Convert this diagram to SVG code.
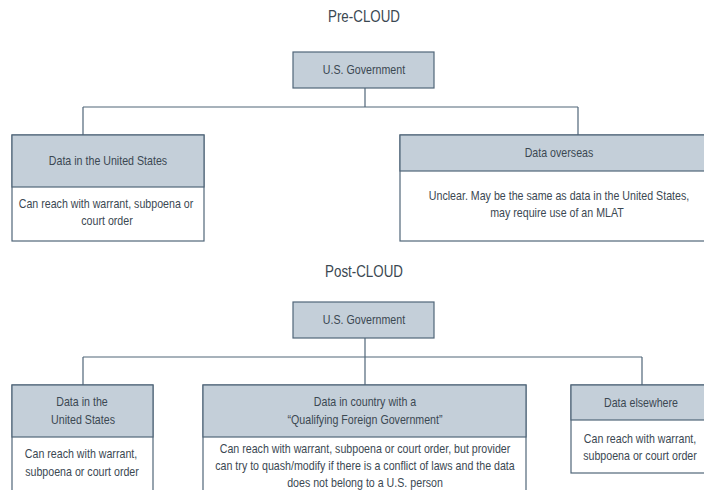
<svg xmlns="http://www.w3.org/2000/svg" width="704" height="490" viewBox="0 0 704 490">
<style>
text{font-family:"Liberation Sans",Arial,sans-serif;font-size:13px;fill:#3b4852;text-anchor:middle}
.title{font-size:16.3px}
.hd{fill:#c4cfd9;stroke:#506679;stroke-width:1.2}
.bd{fill:#ffffff;stroke:#506679;stroke-width:1.2}
.ln{fill:none;stroke:#506679;stroke-width:1.2}
</style>
<rect width="704" height="490" fill="#ffffff"/>
<text class="title" transform="translate(364 0) scale(.82 1)" y="22">Pre-CLOUD</text>
<text class="title" transform="translate(364 0) scale(.82 1)" y="277">Post-CLOUD</text>
<g id="connectors">
<path class="ln" d="M365 88V107M83 107H578M83 107V135M578 107V135"/>
<path class="ln" d="M365 338V385M83 357H642M83 357V385M642 357V385"/>
</g>
<g id="pre-gov">
<rect class="hd" x="293" y="52" width="141" height="36"/>
<text transform="translate(364 0) scale(.82 1)" y="74">U.S. Government</text>
</g>
<g id="pre-us">
<rect class="bd" x="12" y="135" width="192" height="106"/>
<rect class="hd" x="12" y="135" width="192" height="52"/>
<text transform="translate(108 0) scale(.82 1)" y="165">Data in the United States</text>
<text transform="translate(106 0) scale(.82 1)" y="208">Can reach with warrant, subpoena or</text>
<text transform="translate(107 0) scale(.82 1)" y="225">court order</text>
</g>
<g id="pre-overseas">
<rect class="bd" x="400" y="135" width="318" height="106"/>
<rect class="hd" x="400" y="135" width="318" height="36"/>
<text transform="translate(559 0) scale(.82 1)" y="157">Data overseas</text>
<text transform="translate(559 0) scale(.82 1)" y="200">Unclear. May be the same as data in the United States,</text>
<text transform="translate(557 0) scale(.82 1)" y="217">may require use of an MLAT</text>
</g>
<g id="post-gov">
<rect class="hd" x="293" y="302" width="141" height="36"/>
<text transform="translate(364 0) scale(.82 1)" y="324">U.S. Government</text>
</g>
<g id="post-us">
<rect class="bd" x="12" y="385" width="141" height="112"/>
<rect class="hd" x="12" y="385" width="141" height="52"/>
<text transform="translate(82 0) scale(.82 1)" y="406">Data in the</text>
<text transform="translate(83 0) scale(.82 1)" y="424">United States</text>
<text transform="translate(81 0) scale(.82 1)" y="458">Can reach with warrant,</text>
<text transform="translate(82 0) scale(.82 1)" y="476">subpoena or court order</text>
</g>
<g id="post-qfg">
<rect class="bd" x="203" y="385" width="323" height="112"/>
<rect class="hd" x="203" y="385" width="323" height="52"/>
<text transform="translate(365 0) scale(.82 1)" y="406">Data in country with a</text>
<text transform="translate(365 0) scale(.82 1)" y="424">“Qualifying Foreign Government”</text>
<text transform="translate(365 0) scale(.82 1)" y="453">Can reach with warrant, subpoena or court order, but provider</text>
<text transform="translate(365 0) scale(.82 1)" y="470">can try to quash/modify if there is a conflict of laws and the data</text>
<text transform="translate(365 0) scale(.82 1)" y="487">does not belong to a U.S. person</text>
</g>
<g id="post-elsewhere">
<rect class="bd" x="571" y="385" width="141" height="88"/>
<rect class="hd" x="571" y="385" width="141" height="35"/>
<text transform="translate(641 0) scale(.82 1)" y="407">Data elsewhere</text>
<text transform="translate(640 0) scale(.82 1)" y="443">Can reach with warrant,</text>
<text transform="translate(640 0) scale(.82 1)" y="460">subpoena or court order</text>
</g>
</svg>
